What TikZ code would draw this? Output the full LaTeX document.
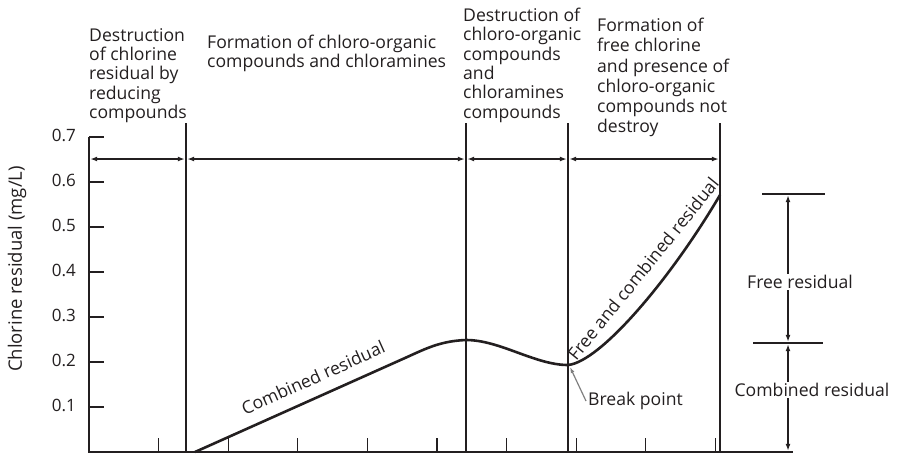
\documentclass[tikz,border=0pt]{standalone}
\usepackage{fontspec}
\setmainfont{Open Sans}
\usetikzlibrary{positioning, arrows.meta}
\definecolor{InkBlack}{HTML}{231F20}
\definecolor{PointerGray}{HTML}{7F7F7F}
\newcommand{\lblfont}{\fontsize{17.6}{19.3}\selectfont}

\begin{document}
\begin{tikzpicture}[
            x=1pt, y=-1pt,
            axis/.style={draw=InkBlack, line width=2.4pt},
            tickmark/.style={draw=InkBlack, line width=1.3pt},
            divider/.style={draw=InkBlack, line width=2.4pt},
            span/.style={{Latex[length=7pt,width=5pt]}-{Latex[length=7pt,width=5pt]}, draw=InkBlack, line width=1.5pt, shorten <=1.2pt, shorten >=1.2pt},
            curve/.style={draw=InkBlack, line width=2.6pt, line join=round},
            pointer/.style={-{Latex[length=6pt,width=4pt]}, draw=PointerGray, line width=1.2pt},
            phase/.style={anchor=north west, inner sep=0pt, align=left, text=InkBlack, font=\lblfont},
            lbl/.style={inner sep=2pt, text=InkBlack, font=\lblfont},
            ticklbl/.style={anchor=east, inner sep=0pt, text=InkBlack, font=\fontsize{17}{19}\selectfont}
        ]
            \useasboundingbox (0,0) rectangle (897,453);

            % axes
            \coordinate (origin) at (89,452);
            \coordinate (ytop) at (89,137);
            \coordinate (xend) at (793,452);
            \draw[axis] (ytop) -- (origin) -- (xend);
            \foreach \v in {1,...,7} {
                \draw[tickmark] (89,{452-45*\v}) -- ++(15,0);
                \node[ticklbl] (tick\v) at (76,{450-45*\v}) {0.\v};
            }
            \foreach \k in {1,...,9}
                \draw[tickmark] ({89+69.6*\k},452) -- ++(0,-14);
            \node[lbl, rotate=90, font=\fontsize{18.5}{20}\selectfont] (ylabel) at (17,269) {Chlorine residual (mg/L)};

            % phase dividers and spans
            \coordinate (y-span) at (89,159);
            \foreach \x/\n in {186/a, 466/b, 568/c, 720/d} {
                \coordinate (\n-top) at (\x,123);
                \coordinate (\n-bot) at (\x,452);
                \coordinate (\n-span) at (\x,159);
                \draw[divider] (\n-top) -- (\n-bot);
            }
            \draw[span] (y-span) -- (a-span);
            \draw[span] (a-span) -- (b-span);
            \draw[span] (b-span) -- (c-span);
            \draw[span] (c-span) -- (d-span);

            \node[phase] (reduce) at (89,28) {Destruction\\of chlorine\\residual by\\reducing\\compounds};
            \node[phase] (form) at (207,35) {Formation of chloro-organic\\compounds and chloramines};
            \node[phase] (destroy) at (463,8) {Destruction of\\chloro-organic\\compounds\\and\\chloramines\\compounds};
            \node[phase, font=\fontsize{17.6}{20.2}\selectfont] (free) at (597,18) {Formation of\\free chlorine\\and presence of\\chloro-organic\\compounds not\\destroy};

            % residual curve
            \coordinate (start) at (195,452);
            \coordinate (peak) at (466,340);
            \coordinate (brk) at (568,365);
            \coordinate (stop) at (720,195);
            \draw[curve] (start) -- (405,358)
                node[lbl, pos=0.6, sloped, above=13pt, anchor=base] (combined) {Combined residual}
                .. controls (425,349) and (440,341) .. (peak)
                .. controls (500,340) and (535,365) .. (brk)
                .. controls (600,362) and (670,280) .. (stop);
            \node[lbl, rotate=51] (freecomb) at (643,269) {Free and combined residual};

            \node[lbl, anchor=west] (breaklbl) at (586,401) {Break point};
            \draw[pointer] (breaklbl.west) -- ([xshift=2pt,yshift=-2pt]brk);

            % free / combined split
            \coordinate (free-top) at (788,194);
            \coordinate (split) at (788,343);
            \coordinate (base) at (788,452);
            \draw[axis] ([xshift=-26pt]free-top) -- ([xshift=37pt]free-top);
            \draw[axis] ([xshift=-35pt]split) -- ([xshift=35pt]split);
            \draw[span] (free-top) -- (split);
            \draw[span] (split) -- (base);
            \node[lbl, fill=white, inner sep=1pt] (freelbl) at (800,282) {Free residual};
            \node[lbl, fill=white, inner sep=1pt] (comblbl) at (812,390) {Combined residual};

        \end{tikzpicture}
\end{document}
